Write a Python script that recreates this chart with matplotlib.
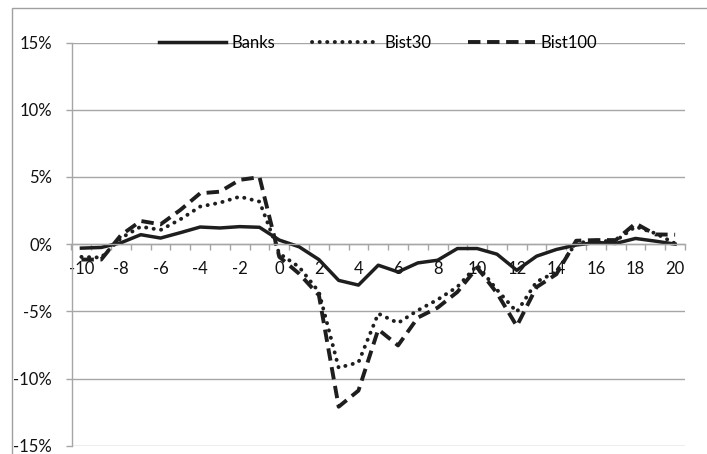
import matplotlib
matplotlib.use("Agg")
import matplotlib.pyplot as plt
from matplotlib.patches import Rectangle
import numpy as np

days = list(range(-10, 21))
banks = [-0.3, -0.25, 0.1, 0.7, 0.45, 0.85, 1.27, 1.2, 1.3, 1.25, 0.3,
         -0.2, -1.15, -2.7, -3.05, -1.57, -2.07, -1.4, -1.2, -0.33, -0.33,
         -0.75, -1.95, -0.9, -0.4, -0.07, 0.12, 0.05, 0.42, 0.22, 0.0]
bist30 = [-0.95, -1.0, 0.45, 1.3, 1.05, 1.84, 2.79, 3.08, 3.53, 3.16, -0.7,
          -1.7, -3.55, -9.2, -8.8, -5.17, -5.87, -4.93, -4.13, -3.18, -1.57,
          -3.4, -5.05, -2.8, -2.07, 0.1, 0.2, 0.25, 1.3, 0.8, 0.05]
bist100 = [-1.15, -1.15, 0.67, 1.72, 1.47, 2.54, 3.78, 3.9, 4.78, 4.98, -0.95,
           -2.2, -3.8, -12.1, -10.9, -6.35, -7.54, -5.47, -4.73, -3.56, -1.74,
           -3.65, -6.1, -3.2, -2.24, 0.25, 0.3, 0.3, 1.54, 0.72, 0.7]
series_names = ["Banks", "Bist30", "Bist100"]
y_ticks = [-15, -10, -5, 0, 5, 10, 15]
x_label_ticks = list(range(-10, 21, 2))

plt.rcParams['font.family'] = ['Lato', 'DejaVu Sans']
W, H = 707, 454
fig = plt.figure(figsize=(W / 100, H / 100), dpi=100)
ax = fig.add_axes([71.5 / W, 1 - 445.7 / H, (685 - 71.5) / W, (445.7 - 42.5) / H])

grid_c = '#a6a6a6'
line_c = '#1e1e1e'
fs = 12
x = np.array(days)
l1, = ax.plot(x, np.array(banks) / 100, color=line_c, lw=2.5, solid_joinstyle='round',
              label=series_names[0])
l2, = ax.plot(x, np.array(bist30) / 100, color=line_c, lw=2.8, linestyle=(0, (0.05, 1.9)),
              dash_capstyle='round', label=series_names[1])
l3, = ax.plot(x, np.array(bist100) / 100, color=line_c, lw=2.8, linestyle=(0, (3.2, 1.7)),
              dash_capstyle='butt', label=series_names[2])

ax.set_xlim(-10.5, 20.5)
ax.set_ylim(-0.15, 0.15)
ax.set_yticks([v / 100 for v in y_ticks])
ax.set_yticklabels([f"{v}%" for v in y_ticks])
ax.yaxis.grid(True, color=grid_c, lw=1.0)
ax.set_axisbelow(True)

for s in ['top', 'right']:
    ax.spines[s].set_visible(False)
ax.spines['left'].set_color(grid_c)
ax.spines['bottom'].set_color(grid_c)
ax.spines['bottom'].set_position(('data', 0))
ax.spines['left'].set_linewidth(1.0)
ax.spines['bottom'].set_linewidth(1.0)

ax.set_xticks(x_label_ticks)
ax.set_xticklabels([str(v) for v in x_label_ticks])
ax.set_xticks(np.arange(-10.5, 20.6, 1.0), minor=True)
ax.tick_params(axis='x', which='major', length=0, pad=12, labelsize=fs, labelcolor='#111111')
ax.tick_params(axis='x', which='minor', length=4, width=1.0, color=grid_c, direction='out')
ax.tick_params(axis='y', which='major', length=4, width=1.0, color=grid_c, pad=10,
               labelsize=fs, labelcolor='#111111')

leg = ax.legend(handles=[l1, l2, l3], loc='center', bbox_to_anchor=(0.5, 1.0),
                ncol=3, frameon=False, fontsize=fs, handlelength=4.0,
                handletextpad=0.35, columnspacing=2.2)

fig.patches.append(Rectangle((12 / W, -0.05), 1.2, 1 - 8 / H + 0.05, transform=fig.transFigure,
                             fill=False, edgecolor='#a0a0a0', lw=1.0, zorder=0))

fig.savefig('out.png', dpi=100)
